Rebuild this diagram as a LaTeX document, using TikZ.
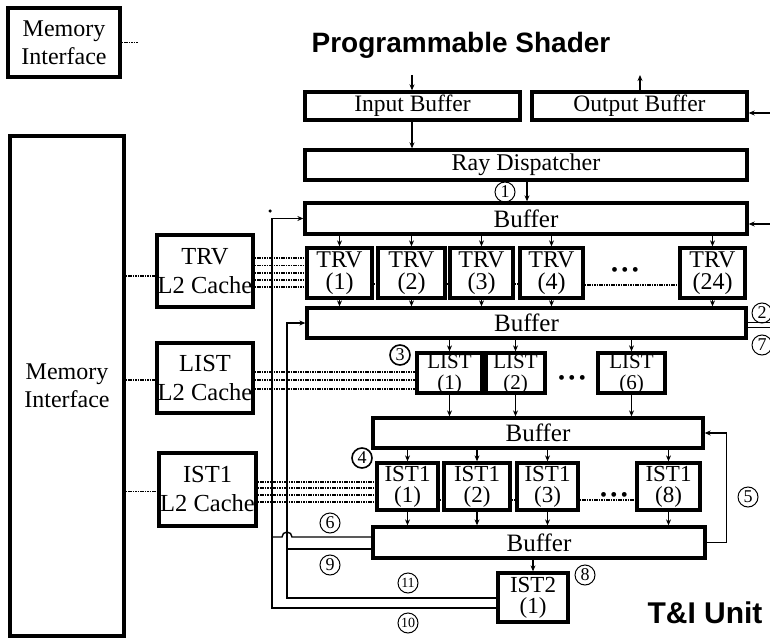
\documentclass[tikz,border=0pt]{standalone}
\usepackage{fontspec}
\setmainfont{Liberation Serif}
\newfontfamily\headfont{Liberation Sans}
\usetikzlibrary{arrows.meta}
\begin{document}
\begin{tikzpicture}[x=1pt,y=-1pt,
  box/.style={draw, line width=3.3pt, inner sep=0pt},
  txt/.style={inner sep=0pt, align=center, font=\fontsize{24}{22}\selectfont},
  conn/.style={line width=1.4pt},
  arr/.style={conn, -{Stealth[length=6pt,width=5pt]}},
  dotl/.style={line width=1.2pt, dash pattern=on 1.6pt off 0.8pt},
  num/.style={circle, draw, line width=1pt, inner sep=0pt, minimum size=20pt, font=\fontsize{18}{18}\selectfont},
  numtwo/.style={num, font=\fontsize{14}{14}\selectfont},
  bul/.style={inner sep=0pt, font=\fontsize{20}{20}\selectfont},
  head/.style={inner sep=0pt, font=\headfont\bfseries\fontsize{28}{28}\selectfont}]
\newcommand\mybox[7][]{%
  \node[box, minimum width={#5-#3}, minimum height={#6-#4}] (#2) at ({(#3+#5)/2},{(#4+#6)/2}) {};
  \node[txt,#1] (#2-t) at (#2.center) {#7};}
\useasboundingbox (0,0) rectangle (770,639);
% titles
\node[head] (title) at (461,45) {Programmable Shader};
\node[head, font=\headfont\bfseries\fontsize{30}{30}\selectfont] (tiunit) at (705,613) {T\&I Unit};
% memory interfaces
\mybox[font=\fontsize{24}{28}\selectfont]{memtop}{8}{8}{120}{77}{Memory\\Interface}
\coordinate (memtopend) at (138,42.5);
\draw[dotl] (memtop.east) -- (memtopend);
\mybox[font=\fontsize{24}{28}\selectfont]{mem}{10}{136}{124}{636}{Memory\\Interface}
% caches
\mybox[font=\fontsize{24.5}{29}\selectfont]{trvc}{157}{235}{253}{307}{TRV\\L2 Cache}
\mybox[font=\fontsize{24.5}{29}\selectfont]{listc}{157}{343}{253}{413}{LIST\\L2 Cache}
\mybox[font=\fontsize{24.5}{29}\selectfont]{istc}{159}{453}{256}{526}{IST1\\L2 Cache}
% shader buffers
\mybox[font=\fontsize{23.5}{23}\selectfont]{inbuf}{305}{92}{520}{120}{Input Buffer}
\mybox[font=\fontsize{23.5}{23}\selectfont]{outbuf}{532}{92}{747}{120}{Output Buffer}
\mybox[font=\fontsize{24}{24}\selectfont]{ray}{305}{150}{747}{180}{Ray Dispatcher}
\mybox[font=\fontsize{25}{25}\selectfont]{buf1}{305}{203}{747}{234}{Buffer}
% TRV units
\mybox{trv1}{307}{248}{372}{298}{TRV\\(1)}
\mybox{trv2}{378}{248}{445}{298}{TRV\\(2)}
\mybox{trv3}{450}{248}{513}{298}{TRV\\(3)}
\mybox{trv4}{520}{248}{583}{298}{TRV\\(4)}
\mybox{trv24}{680}{248}{745}{298}{TRV\\(24)}
\mybox[font=\fontsize{25}{25}\selectfont]{buf2}{307}{308}{746}{338}{Buffer}
% LIST units
\mybox[font=\fontsize{21}{21}\selectfont, yshift=-1pt]{list1}{417}{353}{482}{393}{LIST\\(1)}
\mybox[font=\fontsize{21}{21}\selectfont, yshift=-1pt]{list2}{486}{353}{545}{393}{LIST\\(2)}
\mybox[font=\fontsize{21}{21}\selectfont, yshift=-1pt]{list6}{598}{353}{665}{393}{LIST\\(6)}
\mybox[font=\fontsize{25}{25}\selectfont]{buf3}{373}{418}{703}{448}{Buffer}
% IST1 units
\mybox[font=\fontsize{23}{21}\selectfont]{ist11}{377}{463}{438}{510}{IST1\\(1)}
\mybox[font=\fontsize{23}{21}\selectfont]{ist12}{444}{463}{510}{510}{IST1\\(2)}
\mybox[font=\fontsize{23}{21}\selectfont]{ist13}{517}{463}{578}{510}{IST1\\(3)}
\mybox[font=\fontsize{23}{21}\selectfont]{ist18}{637}{463}{700}{510}{IST1\\(8)}
\mybox[font=\fontsize{25}{25}\selectfont]{buf4}{373}{527}{705}{558}{Buffer}
\mybox[font=\fontsize{23}{21}\selectfont]{ist2}{498}{573}{568}{622}{IST2\\(1)}
% top connectors
\coordinate (inT) at (412,75);
\coordinate (outT) at (640,75);
\coordinate (rin1) at (770,113);
\coordinate (rin2) at (770,224);
\coordinate (d1) at (527,0);
\draw[arr] (inT) -- (inbuf.north -| inT);
\draw[arr] (inbuf.south -| inT) -- (ray.north -| inT);
\draw[arr] (outbuf.north -| outT) -- (outT);
\draw[arr] (rin1) -- (outbuf.east |- rin1);
\draw[arr] (rin2) -- (buf1.east |- rin2);
\draw[arr] (ray.south -| d1) -- (buf1.north -| d1);
% unit connectors
\foreach \n in {trv1,trv2,trv3,trv4,trv24}{
  \draw[arr] (buf1.south -| \n) -- (\n.north);
  \draw[arr] (\n.south) -- (buf2.north -| \n);}
\foreach \n in {list1,list2,list6}{
  \draw[arr] (buf2.south -| \n) -- (\n.north);
  \draw[arr] (\n.south) -- (buf3.north -| \n);}
\foreach \n in {ist11,ist12,ist13,ist18}{
  \draw[arr] (buf3.south -| \n) -- (\n.north);
  \draw[arr] (\n.south) -- (buf4.north -| \n);}
\draw[arr] (buf4.south -| ist2) -- (ist2.north);
\draw[arr] (buf4.east) -- ++(20,0) |- (buf3.east);
% outputs on the right of buffer 2
\coordinate (o2) at (770,322);
\coordinate (o7) at (770,327);
\draw[line width=1pt] (buf2.east |- o2) -- (o2);
\draw[line width=1pt] (buf2.east |- o7) -- (o7);
% left feedback lines
\coordinate (ox) at (272,0);
\coordinate (ix) at (287,0);
\coordinate (y10) at (0,608);
\coordinate (y11) at (0,598);
\coordinate (y6) at (0,537);
\coordinate (y9) at (0,549);
\coordinate (hop) at (292,537);
\draw[arr] (ist2.west |- y10) -- (ox |- y10) -- (ox |- buf1.west) -- (buf1.west);
\draw[arr] (ist2.west |- y11) -- (ix |- y11) -- (ix |- buf2.west) -- (buf2.west);
\draw[conn] (buf4.west |- y6) -- (hop) arc (0:-180:5) -- (ox |- y6);
\draw[conn] (buf4.west |- y9) -- (ix |- y9);
\node[circle, fill, inner sep=0pt, minimum size=3.5pt] (dot) at (270,211) {};
% memory to cache
\draw[dotl] ([yshift=-5pt]mem.east |- trvc.west) -- ([yshift=-5pt]trvc.west);
\draw[dotl] ([yshift=-2pt]mem.east |- listc.west) -- ([yshift=-2pt]listc.west);
\draw[dotl] ([yshift=-2pt]mem.east |- istc.west) -- ([yshift=-2pt]istc.west);
% cache to units
\foreach \yy in {258,265.5,273,280,287}
  \draw[dotl] (trvc.east |- 0,\yy) -- (trv1.west |- 0,\yy);
\foreach \yy in {372,380,389}
  \draw[dotl] (listc.east |- 0,\yy) -- (list1.west |- 0,\yy);
\foreach \yy in {482,488,495,502}
  \draw[dotl] (istc.east |- 0,\yy) -- (ist11.west |- 0,\yy);
% dotted links between units
\draw[dotl] (trv1.east |- 0,284) -- (trv2.west |- 0,284);
\draw[dotl] (trv2.east |- 0,284) -- (trv3.west |- 0,284);
\draw[dotl] (trv3.east |- 0,284) -- (trv4.west |- 0,284);
\draw[dotl] (trv4.east |- 0,285) -- (trv24.west |- 0,285);
\draw[dotl] (ist11.east |- 0,500) -- (ist12.west |- 0,500);
\draw[dotl] (ist12.east |- 0,500) -- (ist13.west |- 0,500);
\draw[dotl] (ist13.east |- 0,500) -- (ist18.west |- 0,500);
\node[bul] (tdots) at (625,272) {\textbullet\,\textbullet\,\textbullet};
\node[bul] (ldots) at (572,380) {\textbullet\,\textbullet\,\textbullet};
\node[bul] (idots) at (614,497) {\textbullet\,\textbullet\,\textbullet};
% step numbers
\node[num] (n1) at (505,192) {1};
\node[num] (n2) at (762,313) {2};
\node[num] (n7) at (762,345) {7};
\node[num, line width=1.6pt] (n3) at (400,355) {3};
\node[num, line width=1.6pt] (n4) at (362,458) {4};
\node[num] (n5) at (748,497) {5};
\node[num] (n6) at (330,523) {6};
\node[num] (n9) at (330,565) {9};
\node[num] (n8) at (585,575) {8};
\node[numtwo] (n11) at (408,583) {11};
\node[numtwo] (n10) at (408,623) {10};
\end{tikzpicture}
\end{document}
